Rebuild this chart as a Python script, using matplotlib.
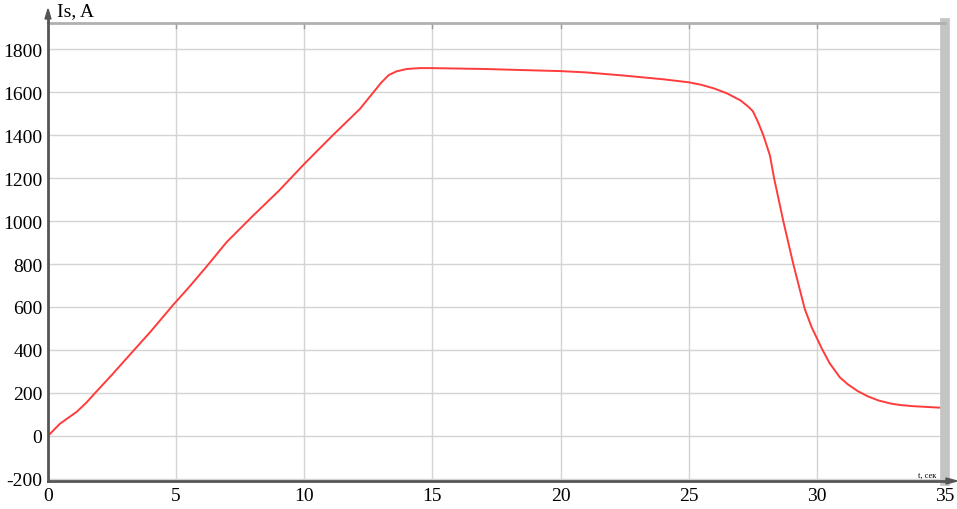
import numpy as np
import matplotlib.pyplot as plt

# ток статора Is, A по времени t, сек
t = [0, 0.47, 1.12, 1.5, 1.84, 2.5, 3.0, 4.0, 4.9, 5.5, 6.2, 6.97, 8.0, 9.0, 10.0,
     11.1, 12.17, 13.0, 13.3, 13.6, 14.0, 14.5, 15.0, 17.0, 20.0, 21.0, 22.5,
     24.0, 25.0, 25.5, 26.0, 26.5, 27.03, 27.3, 27.5, 27.7, 27.91, 28.17,
     28.33, 28.69, 29.08, 29.53, 29.8, 30.0, 30.2, 30.5, 30.9, 31.21, 31.6,
     31.99, 32.4, 32.9, 33.3, 33.8, 34.4, 35.0]
Is = [0, 57, 112, 155, 200, 285, 352, 485, 612, 692, 790, 902, 1025, 1140, 1266,
      1398, 1522, 1644, 1680, 1697, 1708, 1712, 1712, 1708, 1698, 1692, 1677,
      1660, 1646, 1634, 1617, 1594, 1561, 1535, 1512, 1462, 1400, 1305,
      1200, 1000, 800, 590, 505, 455, 405, 338, 272, 240, 208,
      184, 165, 150, 143, 138, 134, 130]

xticks = [0, 5, 10, 15, 20, 25, 30, 35]
yticks = [-200, 0, 200, 400, 600, 800, 1000, 1200, 1400, 1600, 1800]

plt.rcParams['font.family'] = ['Liberation Serif', 'DejaVu Serif']

fig = plt.figure(figsize=(9.57, 5.10), dpi=100)
ax = fig.add_axes([48/957, 1-482/510, (945-48)/957, (482-24)/510])

ax.plot(t, Is, color='#ff3b3b', lw=1.4)

ax.set_xlim(0, 35.0)
ax.set_ylim(-210, 1922)
ax.set_xticks(xticks)
ax.set_yticks(yticks)
ax.set_xticklabels([str(v) for v in xticks], fontsize=14)
ax.set_yticklabels([str(v) for v in yticks], fontsize=14)
ax.grid(True, color='#d4d4d4', lw=1)
ax.tick_params(length=0, pad=4)

ax.spines['left'].set_color('#555555')
ax.spines['left'].set_linewidth(2)
ax.spines['bottom'].set_color('#555555')
ax.spines['bottom'].set_linewidth(2)
ax.spines['top'].set_color('#b0b0b0')
ax.spines['top'].set_linewidth(2)
ax.spines['right'].set_color('#c4c4c4')
ax.spines['right'].set_linewidth(7)

# засечки сверху и справа
for v in xticks[1:-1]:
    ax.plot([v, v], [1922, 1900], color='#999999', lw=1, clip_on=False)
for v in yticks[1:]:
    ax.plot([34.85, 35.0], [v, v], color='#999999', lw=1, clip_on=False)

# стрелки осей
fig.patches.append(plt.Polygon([[48/957, 1-10/510], [45/957, 1-20/510], [51/957, 1-20/510]],
                               closed=True, color='#555555', transform=fig.transFigure))
fig.lines.append(plt.Line2D([48/957, 48/957], [1-24/510, 1-14/510], color='#555555', lw=2,
                            transform=fig.transFigure))
fig.patches.append(plt.Polygon([[957/957, 1-482/510], [946/957, 1-479/510], [946/957, 1-485/510]],
                               closed=True, color='#555555', transform=fig.transFigure))

fig.text(57/957, 1-12/510, 'Is, A', fontsize=14, va='center', ha='left')
fig.text(936/957, 1-476/510, 't, сек', fontsize=6, va='center', ha='right')

fig.savefig('out.png', dpi=100)
